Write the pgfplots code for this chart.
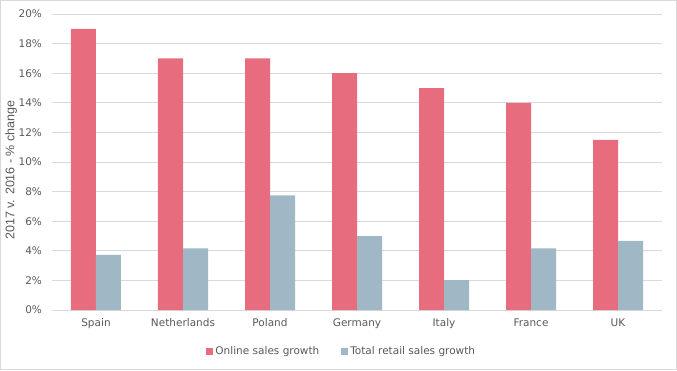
\documentclass[border=0pt]{standalone}
\usepackage{pgfplots}
\pgfplotsset{compat=1.18}
\usepackage{fontspec}
\setmainfont{DejaVu Sans}
\newfontfamily\arialf{Liberation Sans}
\definecolor{onl}{HTML}{E66C7E}
\definecolor{ret}{HTML}{A0B7C6}
\definecolor{txt}{HTML}{595959}
\definecolor{grd}{HTML}{D9D9D9}
\begin{document}
\begin{tikzpicture}[x=1pt,y=1pt]
\draw[grd, line width=1pt] (0.5,0.5) rectangle (676.5,369.5);
\begin{axis}[
  at={(52.5pt,60pt)}, anchor=south west,
  scale only axis, width=609pt, height=296pt,
  ybar=0pt, bar width=25pt,
  xmin=-0.5, xmax=6.5, ymin=0, ymax=20,
  xtick=data,
  xticklabels={Spain,Netherlands,Poland,Germany,Italy,France,UK},
  ytick={0,2,...,20},
  yticklabel={\pgfmathprintnumber{\tick}\%},
  /pgf/number format/assume math mode=true,
  axis line style={draw=none},
  ymajorgrids, grid style={grd, line width=0.8pt},
  major tick length=0pt,
  tick label style={font=\fontsize{10.5}{12}\selectfont, text=txt},
  xticklabel style={yshift=-5pt},
  yticklabel style={xshift=-7pt},
  ylabel={2017 v. 2016 - \% change},
  every axis y label/.style={at={(axis description cs:-0.068,0.473)}, rotate=90, anchor=center,
    font=\arialf\fontsize{12.5}{14}\selectfont, text=txt},
  legend style={at={(0.475,-0.11)}, anchor=north, draw=none, legend columns=2,
    font=\fontsize{10.5}{12}\selectfont, text=txt,
    /tikz/every even column/.append style={column sep=20pt}},
  legend image code/.code={\fill[#1] (0pt,-3.5pt) rectangle (7pt,3.5pt);},
]
\addplot[fill=onl, draw=none] coordinates {(0,19) (1,17) (2,17) (3,16) (4,15) (5,14) (6,11.5)};
\addplot[fill=ret, draw=none] coordinates {(0,3.72) (1,4.17) (2,7.75) (3,5.0) (4,2.02) (5,4.17) (6,4.67)};
\legend{Online sales growth, Total retail sales growth}
\end{axis}
\end{tikzpicture}
\end{document}
